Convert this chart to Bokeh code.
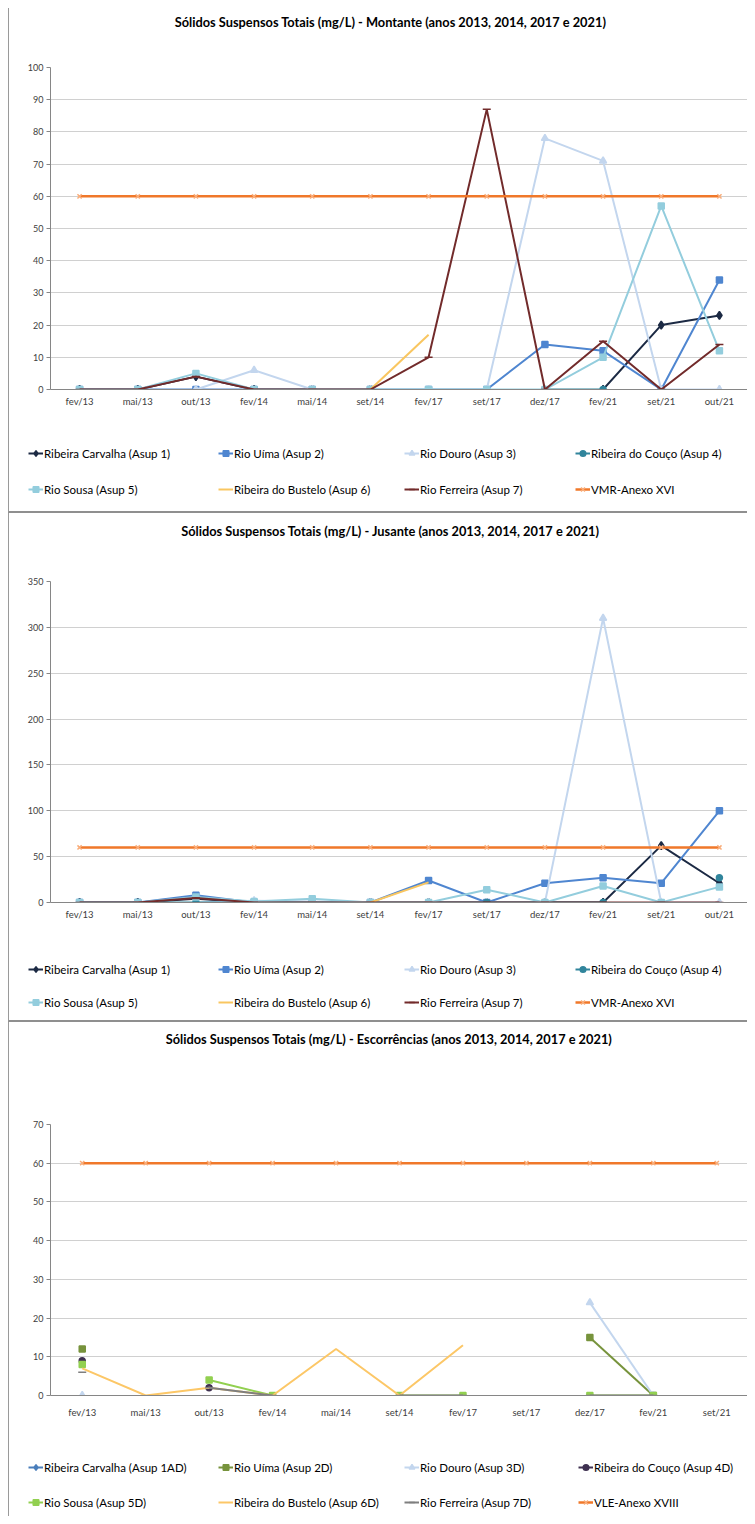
import numpy as np
from bokeh.plotting import figure
from bokeh.models import FactorRange, FixedTicker, Legend, LegendItem, Label
from bokeh.layouts import column
from bokeh.embed import file_html
from bokeh.resources import INLINE

FONT = "Lato"
N = None

# ---------------- data ----------------
cats_mj = ["fev/13", "mai/13", "out/13", "fev/14", "mai/14", "set/14",
           "fev/17", "set/17", "dez/17", "fev/21", "set/21", "out/21"]
cats_e = ["fev/13", "mai/13", "out/13", "fev/14", "mai/14", "set/14",
          "fev/17", "set/17", "dez/17", "fev/21", "set/21"]

labels_mj = ["Ribeira Carvalha (Asup 1)", "Rio Uíma (Asup 2)", "Rio Douro (Asup 3)",
             "Ribeira do Couço (Asup 4)", "Rio Sousa (Asup 5)", "Ribeira do Bustelo (Asup 6)",
             "Rio Ferreira (Asup 7)", "VMR-Anexo XVI"]
labels_e = ["Ribeira Carvalha (Asup 1AD)", "Rio Uíma (Asup 2D)", "Rio Douro (Asup 3D)",
            "Ribeira do Couço (Asup 4D)", "Rio Sousa (Asup 5D)", "Ribeira do Bustelo (Asup 6D)",
            "Rio Ferreira (Asup 7D)", "VLE-Anexo XVIII"]

titles = ["Sólidos Suspensos Totais (mg/L) - Montante (anos 2013, 2014, 2017 e 2021)",
          "Sólidos Suspensos Totais (mg/L) - Jusante (anos 2013, 2014, 2017 e 2021)",
          "Sólidos Suspensos Totais (mg/L)  - Escorrências (anos 2013, 2014, 2017 e 2021)"]

# Montante
m_carvalha = [0, 0, 4, 0, 0, 0, N, N, N, 0, 20, 23]
m_uima = [0, 0, 0, 0, 0, 0, 0, 0, 14, 12, 0, 34]
m_douro = [N, N, 0, 6, 0, 0, 0, 0, 78, 71, 0, 0]
m_couco = [N, N, N, N, N, N, N, N, 0, 0, N, N]
m_sousa = [0, 0, 5, 0, 0, 0, 0, 0, 0, 10, 57, 12]
m_bustelo = [N, N, N, N, N, 0, 17, N, N, N, N, N]
m_ferreira = [0, 0, 4, 0, 0, 0, 10, 87, 0, 15, 0, 14]
m_vmr = [60, 60, 60, 60, 60, 60, 60, 60, 60, 60, 60, 60]

# Jusante
j_carvalha = [0, 0, 4, 0, 0, 0, 0, 0, 0, 0, 62, 21]
j_uima = [0, 0, 8, 0, 0, 0, 24, 0, 21, 27, 21, 100]
j_douro = [N, N, 0, 2, 1, 0, 0, 0, 0, 310, 0, 0]
j_couco = [0, 0, 0, 0, 0, 0, 0, 0, 0, 0, N, 27]
j_sousa = [0, 0, 6, 1, 4, 0, 0, 14, 0, 18, 0, 17]
j_bustelo = [N, N, N, N, N, 0, 22, N, N, N, N, N]
j_ferreira = [0, 0, 5, 0, 0, 0, 0, 0, 0, 0, 0, 0]
j_vmr = [60, 60, 60, 60, 60, 60, 60, 60, 60, 60, 60, 60]

# Escorrências
e_carvalha = [N, N, N, N, N, N, N, N, N, N, N]
e_uima = [12, N, N, N, N, N, N, N, 15, 0, N]
e_douro = [0, N, N, N, N, N, N, N, 24, 0, N]
e_couco = [9, N, 2, N, N, N, N, N, N, N, N]
e_sousa = [8, N, 4, 0, N, 0, 0, N, 0, 0, N]
e_bustelo = [7, 0, 2, 0, 12, 0, 13, N, N, N, N]
e_ferreira = [6, N, 2, 0, N, 0, 0, N, 0, 0, N]
e_vle = [60, 60, 60, 60, 60, 60, 60, 60, 60, 60, 60]

ticks_m = [0, 10, 20, 30, 40, 50, 60, 70, 80, 90, 100]
ticks_j = [0, 50, 100, 150, 200, 250, 300, 350]
ticks_e = [0, 10, 20, 30, 40, 50, 60, 70]

# styles: (color, marker, marker size, marker color, line width)
sty_mj = [
    ("#1c2a44", "diamond", 8, "#1c2a44", 2),
    ("#4f86d0", "square", 6, "#4f86d0", 2),
    ("#c3d6ee", "triangle", 7, "#c3d6ee", 2),
    ("#31859c", "circle", 6, "#31859c", 2),
    ("#93cddd", "square", 6, "#93cddd", 2),
    ("#f9c660", None, 0, None, 2),
    ("#722b2b", "dash", 8, "#722b2b", 2),
    ("#f0782a", "x", 6, "#f9ad7a", 2.5),
]
sty_e = [
    ("#4a7ebb", "diamond", 8, "#4a7ebb", 2),
    ("#77933c", "square", 6, "#77933c", 2),
    ("#c3d6ee", "triangle", 7, "#c3d6ee", 2),
    ("#3f3151", "circle", 6, "#3f3151", 2),
    ("#92d050", "square", 6, "#92d050", 2),
    ("#fcc767", None, 0, None, 2),
    ("#7f7f7f", "dash", 8, "#7f7f7f", 2),
    ("#f0782a", "x", 6, "#f9ad7a", 2.5),
]

W = 739
BORDER_L = "1px solid #9a9a9a"
BORDER_B = "2px solid #8f8f8f"


def blank_fig(height, bottom_border):
    f = figure(width=W, height=height, x_range=(0, 1), y_range=(0, 1),
               output_backend="svg", toolbar_location=None,
               x_axis_location=None, y_axis_location=None,
               min_border=0, min_border_left=0, min_border_right=0,
               min_border_top=0, min_border_bottom=0, frame_align=False)
    f.xgrid.grid_line_color = None
    f.ygrid.grid_line_color = None
    f.outline_line_color = None
    f.border_fill_color = "white"
    st = {"border-left": BORDER_L}
    if bottom_border:
        st["border-bottom"] = BORDER_B
    f.styles = st
    return f


def title_fig(text, height, y_from_bottom):
    f = blank_fig(height, False)
    f.add_layout(Label(x=381, y=y_from_bottom, x_units="screen", y_units="screen", text=text,
                       text_align="center", text_baseline="middle", text_font=FONT,
                       text_font_size="12.8px", text_font_style="bold", text_color="#000000"))
    return f


def plot_fig(cats, series, styles, ticks, height, mb_bottom, x_standoff):
    p = figure(x_range=FactorRange(*cats), y_range=(ticks[0], ticks[-1]),
               width=W, height=height, output_backend="svg", toolbar_location=None,
               min_border_left=41, min_border_right=0, min_border_top=6,
               min_border_bottom=mb_bottom, frame_align=False)
    p.outline_line_color = None
    p.border_fill_color = "white"
    p.xgrid.grid_line_color = None
    p.yaxis.ticker = FixedTicker(ticks=ticks)
    p.ygrid.grid_line_color = "#d0d0d0"
    p.ygrid.grid_line_width = 1

    p.yaxis.axis_line_color = "#868686"
    p.yaxis.major_tick_line_color = "#868686"
    p.yaxis.major_tick_out = 4
    p.yaxis.major_tick_in = 0
    p.yaxis.minor_tick_line_color = None
    p.yaxis.major_label_text_font = FONT
    p.yaxis.major_label_text_font_size = "9px"
    p.yaxis.major_label_text_color = "#404040"
    p.yaxis.major_label_standoff = 3

    p.xaxis.axis_line_color = "#868686"
    p.xaxis.major_tick_line_color = None
    p.xaxis.major_tick_out = 0
    p.xaxis.major_label_text_font = FONT
    p.xaxis.major_label_text_font_size = "9.5px"
    p.xaxis.major_label_text_color = "#404040"
    p.xaxis.major_label_standoff = x_standoff

    for vals, (color, marker, msize, mcolor, lw) in zip(series, styles):
        y = np.array(vals, dtype=float)
        p.line(cats, y, line_color=color, line_width=lw)
        if marker:
            p.scatter(cats, y, marker=marker, size=msize,
                      fill_color=mcolor, line_color=mcolor, line_width=1.5)
    p.styles = {"border-left": BORDER_L}
    return p


def legend_fig(labels, styles, height, bottom_border, xs, vy, spacing):
    f = blank_fig(height, bottom_border)
    rends = []
    for (color, marker, msize, mcolor, lw) in styles:
        rs = [f.line([np.nan], [np.nan], line_color=color, line_width=lw)]
        if marker:
            rs.append(f.scatter([np.nan], [np.nan], marker=marker, size=msize,
                                fill_color=mcolor, line_color=mcolor, line_width=1.5))
        rends.append(rs)
    for ci, idxs in enumerate([(0, 4), (1, 5), (2, 6), (3, 7)]):
        items = [LegendItem(label=labels[i], renderers=rends[i]) for i in idxs]
        leg = Legend(items=items, location=(xs[ci], vy), orientation="vertical",
                     spacing=spacing, padding=0, margin=0, glyph_width=15,
                     glyph_height=14, label_height=14, label_standoff=1,
                     label_text_font=FONT, label_text_font_size="11.5px",
                     label_text_color="#000000",
                     background_fill_alpha=0, border_line_color=None)
        f.add_layout(leg)
    return f


# Chart 1 (Montante)
t1 = title_fig(titles[0], 53, 40)
p1 = plot_fig(cats_mj, [m_carvalha, m_uima, m_douro, m_couco, m_sousa, m_bustelo, m_ferreira, m_vmr],
              sty_mj, ticks_m, 352, 24, 6)
l1 = legend_fig(labels_mj, sty_mj, 100, True, [19, 209, 395, 566], 17, 22)

# Chart 2 (Jusante)
t2 = title_fig(titles[1], 62, 45)
p2 = plot_fig(cats_mj, [j_carvalha, j_uima, j_douro, j_couco, j_sousa, j_bustelo, j_ferreira, j_vmr],
              sty_mj, ticks_j, 351, 24, 6)
l2 = legend_fig(labels_mj, sty_mj, 96, True, [19, 209, 395, 566], 13, 19)

# Chart 3 (Escorrências)
t3 = title_fig(titles[2], 96, 80)
p3 = plot_fig(cats_e, [e_carvalha, e_uima, e_douro, e_couco, e_sousa, e_bustelo, e_ferreira, e_vle],
              sty_e, ticks_e, 306, 29, 11)
l3 = legend_fig(labels_e, sty_e, 92, False, [19, 209, 395, 569], 7, 21)

layout = column(t1, p1, l1, t2, p2, l2, t3, p3, l3, spacing=0,
                styles={"margin-left": "8px", "margin-top": "8px"})
open("out.html", "w").write(file_html(layout, INLINE))
